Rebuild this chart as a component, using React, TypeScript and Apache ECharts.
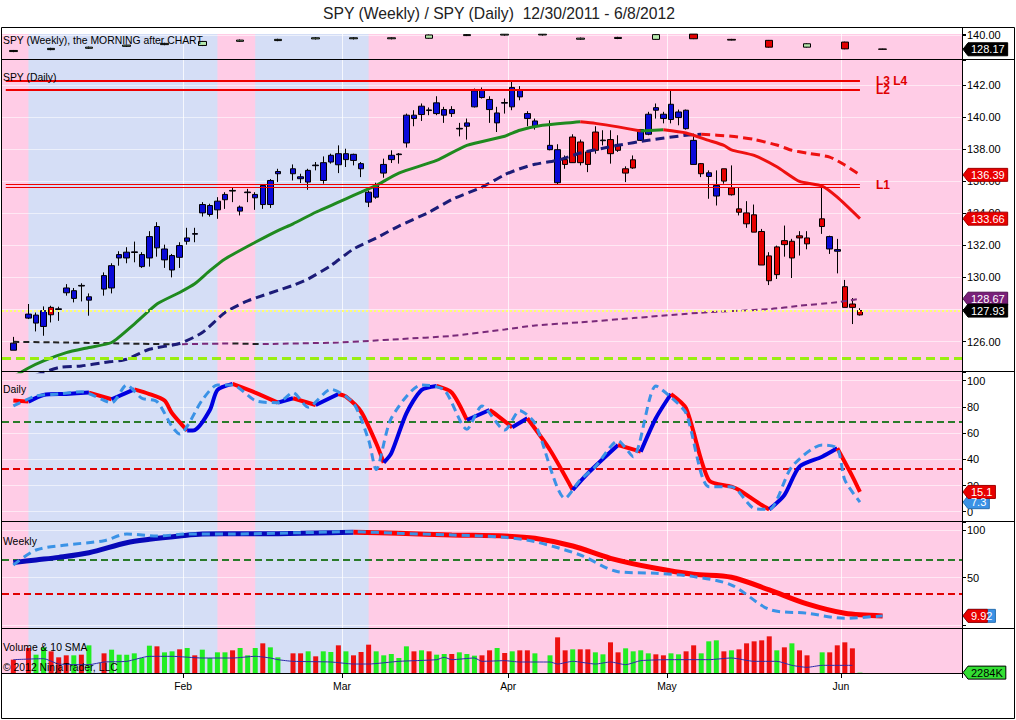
import React, { useEffect, useRef } from "react";
import * as echarts from "echarts";

const W = 1016;
const H = 720;
const PINK = "#ffcce6";
const BAND_BLUE = "#d5def6";
const FONT = '"Liberation Sans", Arial, Helvetica, sans-serif';

// ---------- calendar (weekday slots; slot 0 = 2011-12-29, bar index w = slot - 1) ----------
const SLOT_COUNT = 127;
const monthTicks = ["2012-02-01", "2012-03-01", "2012-04-02", "2012-05-01", "2012-06-01"];
const monthLabels = ["Feb", "Mar", "Apr", "May", "Jun"];
const blueBands = [
  [2, 27],
  [32, 47],
];
// price-axis labels hidden behind the value tags in the reference
const hiddenPriceLabels = [128];

// ---------- daily bars [open, close, low, high], index w = weekday count from 2011-12-30; null = holiday ----------
const dailyOHLC = [
  [125.46, 125.9, 125.46, 126.29],
  null,
  [127.46, 127.71, 127.4, 128.34],
  [127.15, 127.65, 126.63, 127.81],
  [126.94, 127.92, 126.36, 128.19],
  [128.13, 127.67, 127.19, 128.23],
  [128.0, 128.04, 127.29, 128.17],
  [129.04, 129.34, 128.86, 129.58],
  [128.69, 129.17, 128.44, 129.34],
  [129.46, 129.5, 128.5, 129.63],
  [128.58, 128.79, 127.61, 129.0],
  null,
  [129.27, 130.11, 128.86, 130.31],
  [129.34, 130.73, 129.0, 130.88],
  [131.21, 131.42, 130.73, 131.63],
  [131.21, 131.57, 130.88, 131.88],
  [131.55, 131.59, 130.94, 132.23],
  [130.67, 131.42, 130.59, 131.57],
  [131.21, 132.54, 130.67, 132.88],
  [131.84, 133.17, 131.29, 133.44],
  [131.09, 131.77, 130.59, 132.04],
  [130.46, 131.36, 130.0, 131.46],
  [131.25, 131.98, 130.59, 132.19],
  [132.25, 132.46, 132.04, 133.09],
  [132.69, 132.73, 132.19, 133.09],
  [134.02, 134.54, 133.79, 134.69],
  [133.92, 134.48, 133.79, 134.59],
  [134.21, 134.75, 133.65, 135.0],
  [134.84, 135.17, 134.27, 135.31],
  [135.38, 135.42, 134.69, 135.63],
  [134.13, 134.38, 133.86, 134.48],
  [135.28, 135.32, 134.69, 135.52],
  [134.96, 135.17, 134.21, 135.31],
  [134.54, 135.73, 134.27, 135.8],
  [134.54, 136.04, 134.33, 136.13],
  [136.46, 136.6, 135.94, 136.77],
  null,
  [136.46, 136.77, 136.04, 137.04],
  [136.15, 136.27, 135.88, 136.46],
  [135.94, 136.67, 135.46, 136.77],
  [136.96, 137.0, 136.67, 137.19],
  [136.04, 137.15, 135.84, 137.54],
  [137.19, 137.61, 137.09, 137.71],
  [137.02, 137.71, 136.5, 138.23],
  [137.34, 137.71, 136.88, 138.02],
  [137.29, 137.67, 136.98, 137.71],
  [136.77, 137.09, 136.25, 137.19],
  [134.69, 135.31, 134.38, 135.42],
  [135.0, 135.73, 134.9, 135.9],
  [136.5, 137.04, 136.21, 137.4],
  [137.34, 137.61, 137.13, 137.92],
  [137.65, 137.69, 137.09, 137.75],
  [138.38, 140.11, 138.09, 140.21],
  [139.9, 140.11, 139.42, 140.42],
  [140.15, 140.67, 139.75, 140.84],
  [140.4, 140.44, 140.11, 140.59],
  [140.21, 140.88, 140.11, 141.29],
  [140.11, 140.46, 139.63, 140.63],
  [140.21, 140.46, 140.0, 140.67],
  [139.25, 139.29, 138.79, 139.63],
  [139.42, 139.63, 138.59, 139.9],
  [140.63, 141.63, 140.59, 141.77],
  [141.21, 141.71, 141.15, 141.84],
  [140.46, 141.09, 139.63, 141.29],
  [139.63, 140.25, 139.06, 140.63],
  [140.86, 140.9, 140.21, 141.15],
  [140.63, 141.84, 140.42, 142.19],
  [141.25, 141.67, 141.04, 141.92],
  [139.9, 140.21, 139.42, 140.36],
  [139.42, 139.75, 139.21, 139.9],
  null,
  [137.96, 138.23, 137.92, 139.79],
  [135.9, 137.96, 135.8, 138.3],
  [137.34, 137.04, 136.77, 137.6],
  [138.75, 137.15, 137.13, 138.92],
  [138.44, 137.15, 136.98, 138.59],
  [137.82, 137.04, 136.56, 137.82],
  [139.06, 137.92, 137.71, 139.42],
  [138.52, 138.56, 138.23, 139.17],
  [138.59, 137.71, 137.09, 139.17],
  [138.29, 137.92, 137.82, 138.86],
  [136.77, 136.5, 135.94, 136.92],
  [137.33, 136.82, 136.77, 137.6],
  [138.54, 139.21, 138.5, 139.25],
  [138.92, 140.17, 138.86, 140.32],
  [140.42, 140.58, 139.9, 140.84],
  [139.9, 140.17, 139.6, 140.32],
  [139.84, 140.79, 139.6, 141.67],
  [139.96, 140.31, 139.48, 140.46],
  [139.27, 140.42, 139.21, 140.46],
  [137.04, 138.54, 137.04, 138.96],
  [137.09, 136.46, 136.25, 137.13],
  [136.29, 136.52, 134.9, 136.67],
  [135.07, 135.73, 134.48, 136.67],
  [136.77, 136.0, 135.84, 136.77],
  [135.58, 135.15, 135.1, 136.98],
  [134.27, 134.06, 133.86, 135.63],
  [134.02, 133.34, 133.09, 134.75],
  [133.9, 132.82, 132.82, 134.54],
  [132.86, 130.77, 130.77, 133.02],
  [131.34, 129.79, 129.52, 131.57],
  [131.9, 130.17, 129.9, 131.98],
  [132.29, 132.04, 131.29, 133.23],
  [132.25, 131.21, 129.96, 132.4],
  [132.59, 132.46, 131.36, 132.88],
  [132.46, 132.09, 131.75, 132.88],
  null,
  [133.65, 133.17, 132.71, 135.73],
  [131.77, 132.54, 131.46, 132.6],
  [131.63, 131.73, 130.25, 132.4],
  [129.42, 128.13, 128.13, 129.84],
  [128.34, 128.13, 127.09, 128.71],
  [127.93, 127.66, 127.62, 128.08],
];

// ---------- weekly bars (plotted on the Friday slot) [w, open, close, low, high] ----------
const weeklyOHLC = [
  [0, 126.3, 127.2, 125.8, 127.6],
  [5, 127.9, 128.9, 127.4, 129.4],
  [10, 129.0, 129.9, 128.5, 130.4],
  [15, 130.6, 131.6, 130.1, 132.0],
  [20, 132.0, 133.0, 131.5, 133.5],
  [25, 131.3, 134.6, 130.8, 135.0],
  [30, 134.7, 135.7, 134.2, 136.2],
  [35, 135.3, 136.3, 134.8, 136.8],
  [40, 136.7, 137.6, 136.2, 138.1],
  [45, 136.8, 137.6, 136.2, 138.1],
  [50, 136.8, 137.6, 136.3, 138.0],
  [55, 137.2, 139.9, 136.8, 140.3],
  [60, 139.4, 140.2, 139.0, 140.6],
  [65, 139.8, 140.5, 139.3, 140.7],
  [70, 139.9, 140.5, 139.4, 140.7],
  [75, 136.4, 137.3, 135.9, 137.8],
  [80, 137.0, 137.9, 136.5, 138.4],
  [85, 136.3, 140.2, 136.0, 140.6],
  [90, 140.6, 136.8, 136.5, 140.7],
  [95, 136.3, 135.7, 135.4, 136.7],
  [100, 135.5, 129.9, 129.5, 135.8],
  [105, 129.9, 132.7, 129.6, 133.1],
  [110, 134.1, 128.5, 128.2, 134.4],
  [115, 128.4, 128.17, 127.9, 128.6],
];

// ---------- volume (millions), colour per bar: g = up, r = down, - = holiday ----------
const dailyVolume = [
  80, null, 150, 110, 154, 130, 94, 106, 106, 110,
  166, null, 118, 140, 110, 110, 118, 90, 164, 160,
  124, 130, 142, 150, 106, 140, 90, 124, 124, 136,
  150, 106, 150, 178, 154, 94, null, 118, 118, 130,
  100, 130, 126, 166, 130, 106, 126, 170, 130, 106,
  114, 90, 160, 130, 136, 130, 110, 114, 114, 124,
  114, 104, 106, 136, 150, 120, 130, 136, 136, 118,
  null, 106, 214, 136, 142, 142, 142, 124, 112, 184,
  124, 148, 130, 136, 118, 112, 106, 118, 112, 130,
  166, 118, 190, 196, 130, 136, 142, 178, 190, 196,
  220, 136, 154, 178, 136, 106, null, 124, 124, 166,
  184, 148, 2.284,
];
const volumeColors =
  "r-rggrrrgr" + "g-rggggggr" + "ggrgrggggr" + "gggrgg-rrg" + "rggrgrrrgg" +
  "gggrgrggrg" + "ggrrgrgrrg" + "-grrgrrggr" + "rggggrrggr" + "rgggrgrrrr" +
  "rgrgrr-grr" + "rrg";
const volumeSMA = [
  [0, 80], [4, 86], [6, 54], [10, 50], [12, 66], [15, 70], [18, 100], [21, 100], [25, 90],
  [29, 90], [32, 100], [34, 90], [35, 80], [37, 70], [42, 66], [45, 54], [47, 54], [51, 70],
  [56, 80], [57, 94], [58, 80], [61, 90], [62, 70], [65, 74], [67, 66], [71, 66], [72, 54],
  [74, 70], [77, 54], [79, 66], [81, 50], [83, 74], [87, 80], [92, 80], [95, 90], [98, 70],
  [101, 70], [103, 46], [105, 34], [107, 46], [111, 46],
];

// ---------- moving averages [w, value] ----------
const maFast = [
  [0, 123.8], [2, 124.35], [4, 124.79], [7, 125.31], [10, 125.63], [13, 125.94], [16, 127.09],
  [19, 128.34], [22, 129.06], [24, 129.6], [26, 130.42], [28, 131.15], [32, 132.19], [35, 132.92],
  [37, 133.34], [40, 134.06], [44, 134.9], [46, 135.31], [48, 135.73], [51, 136.5], [56, 137.29],
  [60, 138.23], [65, 138.8], [67, 139.17], [70, 139.48], [74, 139.66], [75, 139.7], [77, 139.6],
  [80, 139.38], [83, 139.12], [86, 139.2], [89, 139.0], [92, 138.54], [94, 138.23], [95, 137.95],
  [98, 137.6], [101, 136.9], [104, 135.98], [107, 135.69], [109, 135.0], [112, 133.66],
];
const maMid = [
  [3, 123.9], [6, 124.38], [9, 124.48], [12, 124.69], [15, 124.9], [18, 125.52], [22, 125.88],
  [25, 126.56], [28, 127.81], [31, 128.54], [37, 129.5], [39, 129.9], [42, 130.73], [45, 131.77],
  [48, 132.45], [51, 133.2], [55, 134.06], [58, 134.85], [62, 135.63], [65, 136.4], [67, 136.77],
  [69, 137.05], [72, 137.3], [75, 137.75], [78, 138.05], [80, 138.23], [84, 138.55], [89, 138.86],
  [91, 138.92], [95, 138.8], [98, 138.6], [101, 138.25], [103, 137.92], [105, 137.75], [108, 137.5],
  [110, 137.0], [112, 136.39],
];
const maSlow = [
  [0, 125.98], [5, 125.95], [12, 125.9], [17, 125.86], [21, 125.83], [29, 125.88], [33, 125.84],
  [43, 125.94], [47, 126.04], [51, 126.15], [58, 126.35], [65, 126.75], [69, 127.0], [75, 127.2],
  [82, 127.46], [91, 127.8], [100, 128.02], [104, 128.23], [109, 128.45], [112, 128.67],
];

// ---------- stochastics [w, value] ----------
const dailyStochMain = [
  [0, 84.8], [2, 84.0], [4, 89.1], [7, 89.9], [10, 90.9], [13, 85.8], [16, 93.4], [18, 89.8],
  [20, 84.8], [21, 75.1], [23, 61.9], [24, 62.3], [26, 77.6], [27, 92.9], [29, 97.5], [32, 90.9],
  [35, 83.2], [37, 86.6], [40, 81.4], [43, 89.8], [44, 87.8], [46, 76.4], [48, 52.2], [49, 37.4],
  [50, 44.6], [52, 75.1], [54, 92.9], [56, 96], [58, 90.9], [60, 70], [63, 77.6], [64, 73.5],
  [66, 64.4], [68, 71.3], [71, 47.1], [74, 16.6], [76, 29.3], [80, 50.9], [83, 45.8], [85, 71.3],
  [87, 89.8], [89, 78.9], [92, 24.2], [95, 19.1], [96, 16.6], [99, 5.1], [100, 1.8], [102, 12.7],
  [104, 34.4], [107, 42], [109, 48.4], [111, 27], [112, 15.1],
];
const dailyStochSignal = [
  [0, 80.7], [3, 88.3], [6, 89.8], [9, 91.6], [13, 83.2], [15, 96.7], [17, 86.6], [19, 84],
  [21, 64.9], [22, 59.3], [25, 85.3], [27, 96.7], [29, 96.7], [32, 84.8], [35, 83.2], [37, 90.9],
  [39, 79.7], [42, 93.4], [45, 82.7], [47, 54.7], [48, 32.3], [50, 71.3], [54, 96.7], [57, 92.9],
  [60, 62.9], [62, 80.7], [65, 62.3], [67, 77.1], [69, 67.5], [73, 10.2], [75, 24.2], [77, 34.4],
  [80, 54.1], [82, 42], [85, 96], [87, 87.3], [89, 75.1], [92, 19.1], [95, 19.1], [98, 2.5],
  [100, 1.8], [103, 34.4], [107, 50.9], [109, 48.4], [110, 24.2], [112, 7.3],
];
const weeklyStochMain = [
  [0, 65.8], [3, 68.6], [6, 71.3], [10, 76.2], [15, 86.7], [18, 90.2], [22, 93.7], [25, 95.8],
  [29, 96.0], [35, 96.2], [38, 96.5], [42, 97.2], [45, 97.6], [51, 96.5], [58, 94.8], [65, 93.7],
  [69, 91.3], [74, 83.2], [79, 70.3], [85, 59.8], [90, 53.5], [95, 50.4], [100, 37.1], [105, 22.4],
  [110, 12.6], [115, 9.9],
];
const weeklyStochSignal = [
  [0, 63.3], [3, 79], [7, 84.3], [12, 88.8], [15, 95.8], [19, 93.7], [23, 95.8], [29, 95.8],
  [38, 97.2], [45, 98.2], [51, 96.5], [58, 94.8], [65, 92.3], [69, 87.8], [75, 73.8], [80, 56.3],
  [85, 54.6], [90, 51.1], [95, 42.3], [100, 16.8], [105, 12.7], [110, 7.4], [115, 9.92],
];

// ---------- horizontal levels ----------
const levelL34 = 142.25;
const levelL2 = 141.69;
const levelL1 = [135.78, 135.64];
const levelEnd = 112; // last daily bar
const lastPrice = 127.93;
const supportLevel = 124.96;
const dailyLevels = [68.7, 32.6];
const weeklyLevels = [68.5, 32.8];

// ---------- helpers ----------
function buildSlots() {
  const out = [];
  const d = new Date(Date.UTC(2011, 11, 29));
  while (out.length < SLOT_COUNT) {
    const day = d.getUTCDay();
    if (day !== 0 && day !== 6) out.push(d.toISOString().slice(0, 10));
    d.setUTCDate(d.getUTCDate() + 1);
  }
  return out;
}

function slopeRuns(pts, up, down) {
  const runs = [];
  for (let i = 1; i < pts.length; i++) {
    const c = pts[i][1] >= pts[i - 1][1] ? up : down;
    const last = runs[runs.length - 1];
    if (last && last.color === c) last.pts.push(pts[i]);
    else runs.push({ color: c, pts: [pts[i - 1], pts[i]] });
  }
  return runs;
}

function lineSeries(gi, pts, color, width, type, z, smooth = 0.25) {
  return {
    type: "line",
    xAxisIndex: gi,
    yAxisIndex: gi,
    data: pts.map(([w, v]) => [w + 1, v]),
    symbol: "none",
    showSymbol: false,
    smooth,
    silent: true,
    z,
    lineStyle: { color, width, type, cap: "butt" },
  };
}

function bandsArea() {
  return {
    silent: true,
    z: 1,
    label: { show: false },
    itemStyle: { color: BAND_BLUE, opacity: 1, borderWidth: 0 },
    data: blueBands.map(([a, b]) => [{ xAxis: a + 1 }, { xAxis: b + 1 }]),
  };
}

function helper(gi, extra) {
  return { type: "line", xAxisIndex: gi, yAxisIndex: gi, data: [], silent: true, z: 1, ...extra };
}

const tagTextWidth = (s) => {
  let w = 0;
  for (const ch of s) w += ch === "." ? 3.06 : ch === "K" ? 7.34 : 6.12;
  return w;
};

const tagText = (x, y, text, fill) => ({
  type: "text",
  z: 102,
  x,
  y,
  style: {
    text,
    fill,
    font: `11px ${FONT}`,
    align: "left",
    verticalAlign: "middle",
    textAlign: "left",
    textVerticalAlign: "middle",
  },
});

// value tag: arrow pointing at the axis; optional second colour for the tail (two overlapping tags)
function tagGraphic(y, text, fill, textFill, stroke, tail) {
  const left = 968;
  const right = left + tagTextWidth(text) + 6;
  const children = [];
  if (tail) {
    children.push({
      type: "polygon",
      z: 100,
      shape: { points: [[963, y], [left, y - 6.5], [right, y - 6.5], [right, y + 6.5], [left, y + 6.5]] },
      style: { fill: tail.fill, stroke: tail.stroke, lineWidth: 1 },
    });
    const cut = left + 3 + tagTextWidth(text.slice(0, tail.chars)) + 1;
    children.push({
      type: "polygon",
      z: 101,
      shape: { points: [[963, y], [left, y - 6.5], [cut, y - 6.5], [cut, y + 6.5], [left, y + 6.5]] },
      style: { fill, stroke, lineWidth: 1 },
    });
  } else {
    children.push({
      type: "polygon",
      z: 100,
      shape: { points: [[963, y], [left, y - 6.5], [right, y - 6.5], [right, y + 6.5], [left, y + 6.5]] },
      style: { fill, stroke, lineWidth: 1 },
    });
  }
  children.push(tagText(left + 3, y, text, textFill));
  return { type: "group", children };
}

function staticGraphics() {
  const els = [];
  const txt = (text, x, y, size, align = "left", color = "#000") => ({
    type: "text",
    z: 100,
    x,
    y,
    style: {
      text,
      fill: color,
      font: `${size}px ${FONT}`,
      align,
      verticalAlign: "middle",
      textAlign: align,
      textVerticalAlign: "middle",
    },
  });
  els.push(txt("SPY (Weekly) / SPY (Daily)  12/30/2011 - 6/8/2012", 499, 13, 15.7, "center", "#222"));
  const panelTexts = [
    ["SPY (Weekly), the MORNING after CHART", 40],
    ["SPY (Daily)", 77],
    ["Daily", 389],
    ["Weekly", 541],
    ["Volume & 10 SMA", 647],
    ["\u00a9 2012 NinjaTrader, LLC", 667],
  ];
  panelTexts.forEach(([t, y]) => els.push(txt(t, 3, y, 10.4)));
  const line = (x1, y1, x2, y2) => ({
    type: "line",
    z: 110,
    shape: { x1, y1, x2, y2 },
    style: { stroke: "#000", lineWidth: 1 },
  });
  els.push({
    type: "rect",
    z: 110,
    shape: { x: 1.5, y: 27.5, width: 1013, height: 691 },
    style: { fill: "none", stroke: "#000", lineWidth: 1 },
  });
  [59.5, 371.5, 521.5, 628.5].forEach((y) => els.push(line(1.5, y, 1014.5, y)));
  els.push(line(962.5, 27.5, 962.5, 673.5));
  els.push(line(1.5, 673.5, 962.5, 673.5));
  return els;
}

function buildOption() {
  const slots = buildSlots();
  const isMonthTick = (_i, v) => monthTicks.indexOf(v) >= 0;

  const xAxes = [0, 1, 2, 3, 4].map((gi) => ({
    type: "category",
    gridIndex: gi,
    data: slots,
    boundaryGap: true,
    z: 2,
    axisLine: { show: gi === 4, onZero: false, lineStyle: { color: "#000", width: 1 } },
    axisTick: { show: gi === 4, interval: isMonthTick, length: 5, lineStyle: { color: "#000" } },
    axisLabel: {
      show: gi === 4,
      interval: isMonthTick,
      margin: 8,
      color: "#000",
      formatter: (v) => `{m|${monthLabels[monthTicks.indexOf(v)] || ""}}`,
      rich: { m: { fontSize: 10.4, color: "#000", fontFamily: FONT, padding: [0, 8, 0, 0] } },
    },
    splitLine: { show: true, interval: isMonthTick, lineStyle: { color: "rgba(255,255,255,0.75)", width: 1 } },
  }));

  const yAx = (gi, min, max, splitNumber, formatter, labels = true) => ({
    type: "value",
    gridIndex: gi,
    position: "right",
    min,
    max,
    splitNumber,
    scale: true,
    z: 2,
    axisLine: { show: true, lineStyle: { color: "#000", width: 1 } },
    axisTick: { show: labels, length: 4, lineStyle: { color: "#000" } },
    axisLabel: {
      show: labels,
      formatter,
      color: "#000",
      fontSize: 11,
      fontFamily: FONT,
      margin: 5,
      showMinLabel: true,
      showMaxLabel: true,
    },
    splitLine: {
      show: labels,
      showMinLine: false,
      showMaxLine: false,
      lineStyle: { color: "rgba(255,255,255,0.55)", width: 1 },
    },
  });

  const near = (v, step) => Math.abs(v / step - Math.round(v / step)) < 1e-6;
  const yAxes = [
    yAx(0, 120.2, 140.7, 1, (v) => (Math.abs(v - 140) < 1e-6 ? "140.00" : "")),
    yAx(1, 124.12, 143.55, 10, (v) =>
      near(v, 2) && hiddenPriceLabels.indexOf(Math.round(v)) < 0 ? v.toFixed(2) : ""
    ),
    yAx(2, -7.6, 106.6, 5, (v) => (near(v, 20) ? String(Math.round(v)) : "")),
    yAx(3, -2.8, 108.4, 2, (v) => (near(v, 50) && Math.round(v) !== 0 ? String(Math.round(v)) : "")),
    yAx(4, 0, 270, 1, () => "", false),
  ];

  const grids = [
    { top: 34, height: 25 },
    { top: 60, height: 311.7 },
    { top: 372, height: 149.7 },
    { top: 522, height: 106 },
    { top: 628, height: 45 },
  ].map((g) => ({ ...g, left: 2, width: 960, show: true, backgroundColor: PINK, borderWidth: 0, z: 0 }));

  const series = [];

  // ----- weekly strip -----
  series.push(helper(0, { markArea: bandsArea() }));
  series.push({
    type: "candlestick",
    xAxisIndex: 0,
    yAxisIndex: 0,
    data: weeklyOHLC.map(([w, o, c, l, h]) => [w + 1, o, c, l, h]),
    encode: { x: 0, y: [1, 2, 3, 4] },
    barWidth: 8,
    silent: true,
    z: 3,
    itemStyle: { color: "#b6e8ad", color0: "#e00000", borderColor: "#000", borderColor0: "#000", borderWidth: 1 },
  });

  // ----- price panel -----
  series.push(helper(1, { markArea: bandsArea() }));
  const dailyData = [];
  dailyOHLC.forEach((b, w) => {
    if (b) dailyData.push([w + 1, b[0], b[1], b[2], b[3]]);
  });
  series.push({
    type: "candlestick",
    xAxisIndex: 1,
    yAxisIndex: 1,
    data: dailyData,
    encode: { x: 0, y: [1, 2, 3, 4] },
    barWidth: 6,
    silent: true,
    z: 3,
    itemStyle: { color: "#0a0ad8", color0: "#e60000", borderColor: "#000", borderColor0: "#000", borderWidth: 1 },
  });
  slopeRuns(maSlow, "#7a2a7a", "#222222").forEach((r) => series.push(lineSeries(1, r.pts, r.color, 2, [6, 4], 4, 0.2)));
  slopeRuns(maMid, "#1c1c78", "#ee1111").forEach((r) => series.push(lineSeries(1, r.pts, r.color, 3, [9, 5], 4, 0.2)));
  slopeRuns(maFast, "#1f8a1f", "#ee1111").forEach((r) => series.push(lineSeries(1, r.pts, r.color, 3, "solid", 4, 0.2)));
  const lLabel = (text) => ({
    show: true,
    position: "end",
    formatter: text,
    distance: 16,
    color: "#e00000",
    fontWeight: "bold",
    fontSize: 12,
    fontFamily: FONT,
  });
  const seg = (v, label, width) => [
    { coord: [0, v], lineStyle: { color: "#ee0000", width, type: "solid" }, label },
    { coord: [levelEnd + 1, v] },
  ];
  series.push(
    helper(1, {
      markLine: {
        silent: true,
        symbol: ["none", "none"],
        animation: false,
        label: { show: false },
        data: [
          seg(levelL34, lLabel("L3 L4"), 2),
          seg(levelL2, lLabel("L2"), 2),
          seg(levelL1[0], lLabel("L1"), 1),
          seg(levelL1[1], { show: false }, 1),
          { yAxis: lastPrice, lineStyle: { color: "#ffff70", width: 2, type: "dotted" } },
          { yAxis: supportLevel, lineStyle: { color: "#99ee11", width: 3, type: [9, 5] } },
        ],
      },
    })
  );

  // ----- daily stochastic -----
  series.push(helper(2, { markArea: bandsArea() }));
  series.push(
    helper(2, {
      markLine: {
        silent: true,
        symbol: ["none", "none"],
        label: { show: false },
        data: [
          { yAxis: dailyLevels[0], lineStyle: { color: "#2a7a2a", width: 2, type: [7, 4] } },
          { yAxis: dailyLevels[1], lineStyle: { color: "#e00000", width: 2, type: [7, 4] } },
        ],
      },
    })
  );
  slopeRuns(dailyStochMain, "#0000e0", "#ff0000").forEach((r) =>
    series.push(lineSeries(2, r.pts, r.color, 4, "solid", 6, 0.25))
  );
  series.push(lineSeries(2, dailyStochSignal, "#3a92e6", 3, [8, 5], 7, 0.25));

  // ----- weekly stochastic -----
  series.push(helper(3, { markArea: bandsArea() }));
  series.push(
    helper(3, {
      markLine: {
        silent: true,
        symbol: ["none", "none"],
        label: { show: false },
        data: [
          { yAxis: weeklyLevels[0], lineStyle: { color: "#2a7a2a", width: 2, type: [7, 4] } },
          { yAxis: weeklyLevels[1], lineStyle: { color: "#e00000", width: 2, type: [7, 4] } },
        ],
      },
    })
  );
  slopeRuns(weeklyStochMain, "#0808b8", "#ff0000").forEach((r) =>
    series.push(lineSeries(3, r.pts, r.color, 5, "solid", 6, 0.3))
  );
  series.push(lineSeries(3, weeklyStochSignal, "#3a92e6", 3, [8, 5], 7, 0.3));

  // ----- volume -----
  series.push(helper(4, { markArea: bandsArea() }));
  const volData = [];
  dailyVolume.forEach((v, w) => {
    if (v == null) return;
    volData.push({
      value: [w + 1, v],
      itemStyle: { color: volumeColors[w] === "g" ? "#22ee22" : "#ee1111" },
    });
  });
  series.push({
    type: "bar",
    xAxisIndex: 4,
    yAxisIndex: 4,
    data: volData,
    barWidth: 5,
    silent: true,
    z: 3,
  });
  series.push(lineSeries(4, volumeSMA, "#2a2aa8", 1, "solid", 5, 0.2));

  return {
    animation: false,
    backgroundColor: "#fff",
    textStyle: { fontFamily: FONT },
    grid: grids,
    xAxis: xAxes,
    yAxis: yAxes,
    series,
  };
}

export default function App() {
  const ref = useRef(null);
  useEffect(() => {
    if (!ref.current) return;
    const chart = echarts.init(ref.current, undefined, { renderer: "svg", width: W, height: H });
    chart.setOption(buildOption());
    const yPix = (axis, v) => chart.convertToPixel({ yAxisIndex: axis }, v);
    const lastOf = (arr) => arr[arr.length - 1][1];
    const wLast = weeklyOHLC[weeklyOHLC.length - 1][2];
    const vLast = dailyVolume[dailyVolume.length - 1];
    const RED = { fill: "#e80000", stroke: "#a00000" };
    const BLUE = { fill: "#3a92e6", stroke: "#2a70b0" };
    const tags = [
      tagGraphic(yPix(0, wLast), wLast.toFixed(2), "#000", "#fff", "#000"),
      tagGraphic(yPix(1, lastOf(maMid)), lastOf(maMid).toFixed(2), RED.fill, "#fff", RED.stroke),
      tagGraphic(yPix(1, lastOf(maFast)), lastOf(maFast).toFixed(2), RED.fill, "#fff", RED.stroke),
      tagGraphic(yPix(1, lastOf(maSlow)), lastOf(maSlow).toFixed(2), "#7a1f7a", "#fff", "#501050"),
      tagGraphic(yPix(1, lastPrice), lastPrice.toFixed(2), "#000", "#fff", "#000"),
      tagGraphic(yPix(2, lastOf(dailyStochSignal)), String(lastOf(dailyStochSignal)), BLUE.fill, "#fff", BLUE.stroke),
      tagGraphic(yPix(2, lastOf(dailyStochMain)), String(lastOf(dailyStochMain)), RED.fill, "#fff", RED.stroke),
      // red (main, 9.9) tag lying over the blue (signal, 9.92) tag: one label, two colours
      tagGraphic(yPix(3, lastOf(weeklyStochSignal)), String(lastOf(weeklyStochSignal)), RED.fill, "#fff", RED.stroke, {
        ...BLUE,
        chars: String(lastOf(weeklyStochMain)).length,
      }),
      tagGraphic(yPix(4, vLast), `${Math.round(vLast * 1000)}K`, "#33e033", "#000", "#000"),
    ];
    chart.setOption({ graphic: { elements: [...staticGraphics(), ...tags] } });
    return () => chart.dispose();
  }, []);
  return (
    <div
      ref={ref}
      style={{ position: "absolute", left: 0, top: 0, width: W, height: H, background: "#fff" }}
    />
  );
}
